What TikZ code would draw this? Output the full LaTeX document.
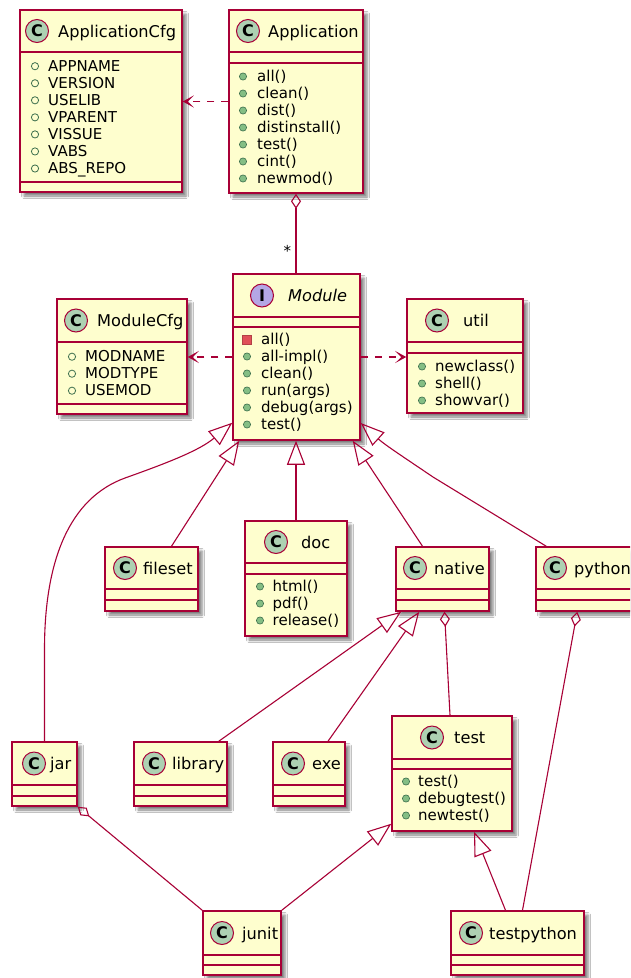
\documentclass[tikz,border=0pt]{standalone}
\usepackage{fontspec}
\setmainfont{DejaVu Sans}
\usetikzlibrary{arrows.meta,calc,shadows.blur}
\definecolor{umlred}{HTML}{A80036}
\definecolor{umlfill}{HTML}{FEFECE}
\definecolor{cgreen}{HTML}{ADD1B2}
\definecolor{ipurple}{HTML}{B4A7E5}
\definecolor{mgreen}{HTML}{84BE84}
\definecolor{mdark}{HTML}{3B6E4C}
\definecolor{pred}{HTML}{E05058}
\begin{document}
\begin{tikzpicture}[x=1pt,y=-1pt,
  cls/.style={draw=umlred,fill=umlfill,line width=1.5pt,inner sep=0pt,
    blur shadow={shadow xshift=4pt,shadow yshift=-4pt,shadow blur radius=2.5pt,shadow opacity=50}},
  divider/.style={draw=umlred,line width=1.5pt},
  cicon/.style={circle,draw=umlred,fill=cgreen,line width=1pt,minimum size=23pt,
    inner sep=0pt,font=\bfseries\fontsize{16}{16}\selectfont},
  iicon/.style={cicon,fill=ipurple},
  cname/.style={anchor=base west,inner sep=0pt,font=\fontsize{16.2}{19}\selectfont},
  member/.style={anchor=base west,inner sep=0pt,font=\fontsize{15}{18}\selectfont},
  field/.style={draw=mdark,line width=0.8pt},
  method/.style={draw=mdark,fill=mgreen,line width=0.6pt},
  private/.style={draw=pred!80!black,fill=pred,line width=0.6pt},
  conn/.style={draw=umlred,line width=1.1pt},
  dep/.style={conn,dash pattern=on 7pt off 7pt,-{Stealth[length=11pt,width=12pt,inset=6pt]}},
  isa/.style={conn,-{Triangle[open,length=24pt,width=18pt]}},
  agg/.style={conn,{Diamond[open,length=15pt,width=10pt]}-}]
\useasboundingbox (0,0) rectangle (630,978);
\fill[white] (0,0) rectangle (630,978);
\clip (0,0) rectangle (630,978);

% ApplicationCfg
\node[cls,minimum width=162pt,minimum height=182pt] (appcfg) at (101,101) {};
\draw[divider] (20,52) -- (182,52);
\draw[divider] (20,182) -- (182,182);
\node[cicon] (appcfg-c) at (37,31) {C};
\node[cname] (appcfg-n) at (58,37) {ApplicationCfg};
\foreach \t [count=\i from 0] in {APPNAME,VERSION,USELIB,VPARENT,VISSUE,VABS,ABS\_REPO}{
  \draw[field] (35,66.2+17.05*\i) circle (3.6);
  \node[member] (appcfg-f\i) at (48,71+17.05*\i) {\t};}

% Application
\node[cls,minimum width=134pt,minimum height=183pt] (app) at (296,101.5) {};
\draw[divider] (229,52) -- (363,52);
\draw[divider] (229,63) -- (363,63);
\node[cicon] (app-c) at (248,31) {C};
\node[cname] (app-n) at (268,37) {Application};
\foreach \t [count=\i from 0] in {all(),clean(),dist(),distinstall(),test(),cint(),newmod()}{
  \draw[method] (243,76.5+17*\i) circle (3.6);
  \node[member] (app-m\i) at (257,81+17*\i) {\t};}

% Module
\node[cls,minimum width=127pt,minimum height=166pt] (module) at (296.5,357) {};
\draw[divider] (233,317) -- (360,317);
\draw[divider] (233,327) -- (360,327);
\node[iicon] (module-c) at (262,295.5) {I};
\node[cname] (module-n) at (288,301.5) {\itshape Module};
\draw[private] (242.7,335.2) rectangle (251.3,343.8);
\node[member] (module-m0) at (261,344) {all()};
\foreach \t [count=\i from 1] in {all-impl(),clean(),run(args),debug(args),test()}{
  \draw[method] (247,339.5+17*\i) circle (3.6);
  \node[member] (module-m\i) at (261,344+17*\i) {\t};}

% ModuleCfg
\node[cls,minimum width=130pt,minimum height=115pt] (modcfg) at (122,356.5) {};
\draw[divider] (57,342) -- (187,342);
\draw[divider] (57,404) -- (187,404);
\node[cicon] (modcfg-c) at (76,320.5) {C};
\node[cname] (modcfg-n) at (97,326.5) {ModuleCfg};
\foreach \t [count=\i from 0] in {MODNAME,MODTYPE,USEMOD}{
  \draw[field] (72,356.7+17*\i) circle (3.6);
  \node[member] (modcfg-f\i) at (85,361.5+17*\i) {\t};}

% util
\node[cls,minimum width=116pt,minimum height=114pt] (util) at (465,356) {};
\draw[divider] (407,342) -- (523,342);
\draw[divider] (407,353) -- (523,353);
\node[cicon] (util-c) at (437,320.5) {C};
\node[cname] (util-n) at (463,326.5) {util};
\foreach \t [count=\i from 0] in {newclass(),shell(),showvar()}{
  \draw[method] (422,366.5+17*\i) circle (3.6);
  \node[member] (util-m\i) at (435,371+17*\i) {\t};}

% fileset, doc, native, python
\node[cls,minimum width=93pt,minimum height=64pt] (fileset) at (151.5,579) {};
\draw[divider] (105,589) -- (198,589);
\draw[divider] (105,600) -- (198,600);
\node[cicon] (fileset-c) at (125,568) {C};
\node[cname] (fileset-n) at (143,574) {fileset};

\node[cls,minimum width=102pt,minimum height=115pt] (doc) at (296,578.5) {};
\draw[divider] (245,563) -- (347,563);
\draw[divider] (245,574) -- (347,574);
\node[cicon] (doc-c) at (276,542) {C};
\node[cname] (doc-n) at (301,548) {doc};
\foreach \t [count=\i from 0] in {html(),pdf(),release()}{
  \draw[method] (260,586.5+17*\i) circle (3.6);
  \node[member] (doc-m\i) at (272.5,591+17*\i) {\t};}

\node[cls,minimum width=93pt,minimum height=64pt] (native) at (442.5,579) {};
\draw[divider] (396,589) -- (489,589);
\draw[divider] (396,600) -- (489,600);
\node[cicon] (native-c) at (415,568) {C};
\node[cname] (native-n) at (434,574) {native};

\node[cls,minimum width=104pt,minimum height=64pt] (python) at (588,579) {};
\draw[divider] (536,589) -- (640,589);
\draw[divider] (536,600) -- (640,600);
\node[cicon] (python-c) at (555,568) {C};
\node[cname] (python-n) at (574,574) {python};

% jar, library, exe, test
\node[cls,minimum width=65pt,minimum height=64pt] (jar) at (44.5,774) {};
\draw[divider] (12,785) -- (77,785);
\draw[divider] (12,796) -- (77,796);
\node[cicon] (jar-c) at (34,763.5) {C};
\node[cname] (jar-n) at (50,769.5) {jar};

\node[cls,minimum width=93pt,minimum height=64pt] (library) at (180.5,774) {};
\draw[divider] (134,785) -- (227,785);
\draw[divider] (134,796) -- (227,796);
\node[cicon] (library-c) at (154,763.5) {C};
\node[cname] (library-n) at (172,769.5) {library};

\node[cls,minimum width=72pt,minimum height=64pt] (exe) at (309,774) {};
\draw[divider] (273,785) -- (345,785);
\draw[divider] (273,796) -- (345,796);
\node[cicon] (exe-c) at (293,763.5) {C};
\node[cname] (exe-n) at (312,769.5) {exe};

\node[cls,minimum width=120pt,minimum height=115pt] (test) at (452,773.5) {};
\draw[divider] (392,759) -- (512,759);
\draw[divider] (392,769) -- (512,769);
\node[cicon] (test-c) at (432,737.5) {C};
\node[cname] (test-n) at (454,743.5) {test};
\foreach \t [count=\i from 0] in {test(),debugtest(),newtest()}{
  \draw[method] (406,781.5+17*\i) circle (3.6);
  \node[member] (test-m\i) at (418,786+17*\i) {\t};}

% junit, testpython
\node[cls,minimum width=78pt,minimum height=64pt] (junit) at (242,943) {};
\draw[divider] (203,955) -- (281,955);
\draw[divider] (203,965) -- (281,965);
\node[cicon] (junit-c) at (222,933) {C};
\node[cname] (junit-n) at (242,939) {junit};

\node[cls,minimum width=133pt,minimum height=64pt] (testpy) at (517.5,943) {};
\draw[divider] (451,955) -- (584,955);
\draw[divider] (451,965) -- (584,965);
\node[cicon] (testpy-c) at (471,933) {C};
\node[cname] (testpy-n) at (489,939) {testpython};

% connectors
\draw[dep] (app.west) -- (app.west -| appcfg.east);
\draw[agg] (app.south) -- (app.south |- module.north)
  node[pos=0.72,left=1pt,font=\fontsize{15}{18}\selectfont] (star) {*};
\draw[dep] (module.west) -- (module.west -| modcfg.east);
\draw[dep] (module.east) -- (module.east -| util.west);
\draw[isa] (jar.north) -- ++(0,-92) .. controls +(0,-90) and (70,498) .. (125,478)
  .. controls (170,462) and (200,450) .. ($(module.south west)+(0,-18)$);
\draw[isa] ($(fileset.north)+(20,0)$) -- ($(module.south west)+(7,0)$);
\draw[isa] (doc.north) -- (doc.north |- module.south);
\draw[isa] ($(native.north)+(-20,0)$) -- ($(module.south east)+(-8,0)$);
\draw[isa] ($(python.north west)+(11,0)$) -- (433,477)
  .. controls (405,458) and (385,445) .. ($(module.east)+(0,66)$);
\draw[isa] ($(library.north east)+(-9,0)$) -- ($(native.south west)+(6,0)$);
\draw[isa] ($(exe.north)+(19,0)$) -- ($(native.south west)+(24,0)$);
\draw[agg] ($(native.south)+(2,0)$) -- ($(test.north)+(-2,0)$);
\draw[agg] ($(python.south west)+(42,0)$) -- ($(testpy.north)+(5,0)$);
\draw[isa] ($(testpy.north)+(-12,0)$) -- ($(test.south)+(22,0)$);
\draw[isa] (junit.north east) -- ($(test.south west)+(0,-8)$);
\draw[agg] (jar.south east) -- (junit.north west);
\end{tikzpicture}
\end{document}
